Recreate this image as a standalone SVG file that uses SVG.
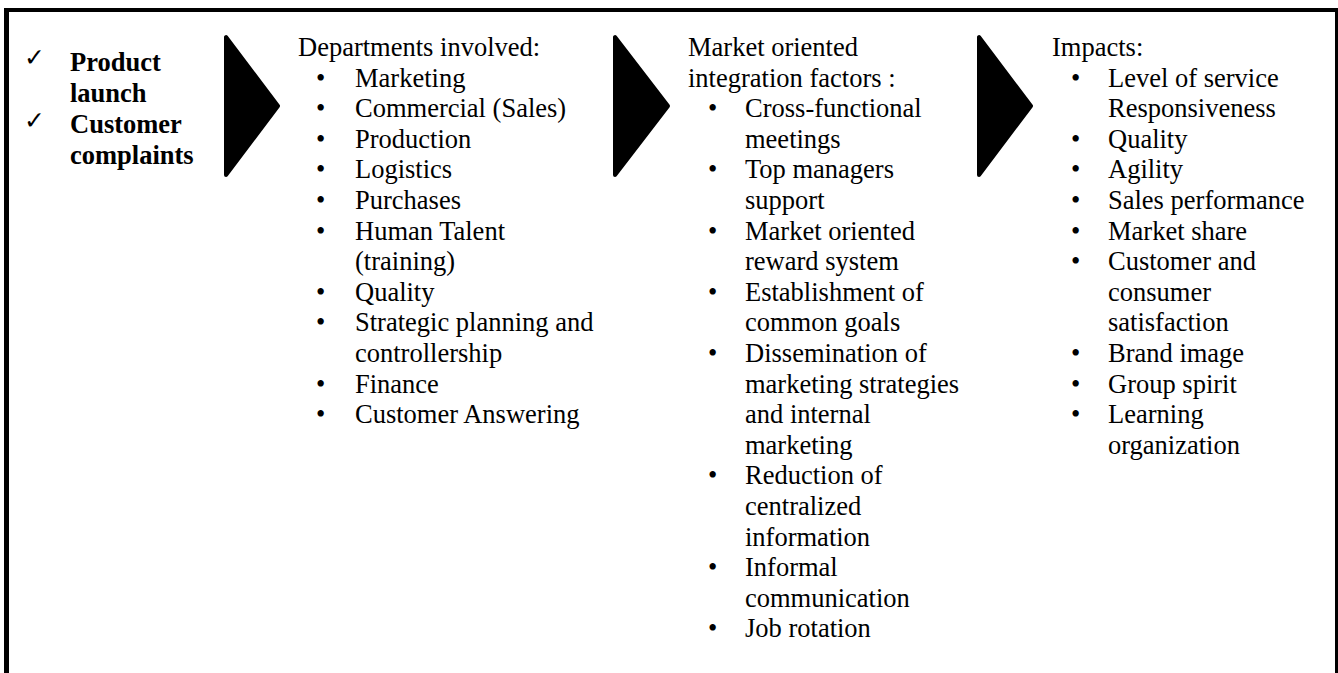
<svg xmlns="http://www.w3.org/2000/svg" width="1338" height="673" viewBox="0 0 1338 673">
  <style>
    text { font-family: "Liberation Serif", "Times New Roman", serif; font-size: 26.5px; fill: #000; }
    .bold { font-weight: bold; }
    .tick { font-family: "DejaVu Sans", sans-serif; font-size: 25px; }
    .chev { fill: #000; stroke: #000; stroke-width: 4; stroke-linejoin: round; }
    .frame { stroke: #000; fill: none; }
  </style>

  <rect x="0" y="0" width="1338" height="673" fill="#fff"/>

  <!-- open frame: left, top and right edges -->
  <g id="frame">
    <line class="frame" x1="6.5" y1="8" x2="6.5" y2="673" stroke-width="5"/>
    <line class="frame" x1="4" y1="10" x2="1338" y2="10" stroke-width="4"/>
    <line class="frame" x1="1336.5" y1="8" x2="1336.5" y2="673" stroke-width="3"/>
  </g>

  <!-- triggers -->
  <g id="triggers">
    <text class="tick" x="24" y="66">✓</text>
    <text class="bold" x="70" y="71">Product</text>
    <text class="bold" x="70" y="102">launch</text>
    <text class="tick" x="24" y="129">✓</text>
    <text class="bold" x="70" y="133">Customer</text>
    <text class="bold" x="70" y="164">complaints</text>
  </g>

  <!-- chevron connectors between stages -->
  <g id="connectors">
    <polygon class="chev" points="226,37 226,175 278,106"/>
    <polygon class="chev" points="615,37 615,175 668,106"/>
    <polygon class="chev" points="979,37 979,175 1031,106"/>
  </g>

  <!-- departments -->
  <g id="departments">
    <text x="298" y="56">Departments involved:</text>
    <g>
      <text x="316" y="86.6">•</text><text x="355" y="86.6">Marketing</text>
      <text x="316" y="117.2">•</text><text x="355" y="117.2">Commercial (Sales)</text>
      <text x="316" y="147.8">•</text><text x="355" y="147.8">Production</text>
      <text x="316" y="178.4">•</text><text x="355" y="178.4">Logistics</text>
      <text x="316" y="209">•</text><text x="355" y="209">Purchases</text>
      <text x="316" y="239.6">•</text><text x="355" y="239.6">Human Talent</text>
      <text x="355" y="270.2">(training)</text>
      <text x="316" y="300.8">•</text><text x="355" y="300.8">Quality</text>
      <text x="316" y="331.4">•</text><text x="355" y="331.4">Strategic planning and</text>
      <text x="355" y="362">controllership</text>
      <text x="316" y="392.6">•</text><text x="355" y="392.6">Finance</text>
      <text x="316" y="423.2">•</text><text x="355" y="423.2">Customer Answering</text>
    </g>
  </g>

  <!-- integration factors -->
  <g id="factors">
    <text x="688" y="56">Market oriented</text>
    <text x="688" y="86.6">integration factors :</text>
    <text x="708" y="117.2">•</text><text x="745" y="117.2">Cross-functional</text>
    <text x="745" y="147.8">meetings</text>
    <text x="708" y="178.4">•</text><text x="745" y="178.4">Top managers</text>
    <text x="745" y="209">support</text>
    <text x="708" y="239.6">•</text><text x="745" y="239.6">Market oriented</text>
    <text x="745" y="270.2">reward system</text>
    <text x="708" y="300.8">•</text><text x="745" y="300.8">Establishment of</text>
    <text x="745" y="331.4">common goals</text>
    <text x="708" y="362">•</text><text x="745" y="362">Dissemination of</text>
    <text x="745" y="392.6">marketing strategies</text>
    <text x="745" y="423.2">and internal</text>
    <text x="745" y="453.8">marketing</text>
    <text x="708" y="484.4">•</text><text x="745" y="484.4">Reduction of</text>
    <text x="745" y="515">centralized</text>
    <text x="745" y="545.6">information</text>
    <text x="708" y="576.2">•</text><text x="745" y="576.2">Informal</text>
    <text x="745" y="606.8">communication</text>
    <text x="708" y="637.4">•</text><text x="745" y="637.4">Job rotation</text>
  </g>

  <!-- impacts -->
  <g id="impacts">
    <text x="1052" y="56">Impacts:</text>
    <text x="1071" y="86.6">•</text><text x="1108" y="86.6">Level of service</text>
    <text x="1108" y="117.2">Responsiveness</text>
    <text x="1071" y="147.8">•</text><text x="1108" y="147.8">Quality</text>
    <text x="1071" y="178.4">•</text><text x="1108" y="178.4">Agility</text>
    <text x="1071" y="209">•</text><text x="1108" y="209">Sales performance</text>
    <text x="1071" y="239.6">•</text><text x="1108" y="239.6">Market share</text>
    <text x="1071" y="270.2">•</text><text x="1108" y="270.2">Customer and</text>
    <text x="1108" y="300.8">consumer</text>
    <text x="1108" y="331.4">satisfaction</text>
    <text x="1071" y="362">•</text><text x="1108" y="362">Brand image</text>
    <text x="1071" y="392.6">•</text><text x="1108" y="392.6">Group spirit</text>
    <text x="1071" y="423.2">•</text><text x="1108" y="423.2">Learning</text>
    <text x="1108" y="453.8">organization</text>
  </g>
</svg>
